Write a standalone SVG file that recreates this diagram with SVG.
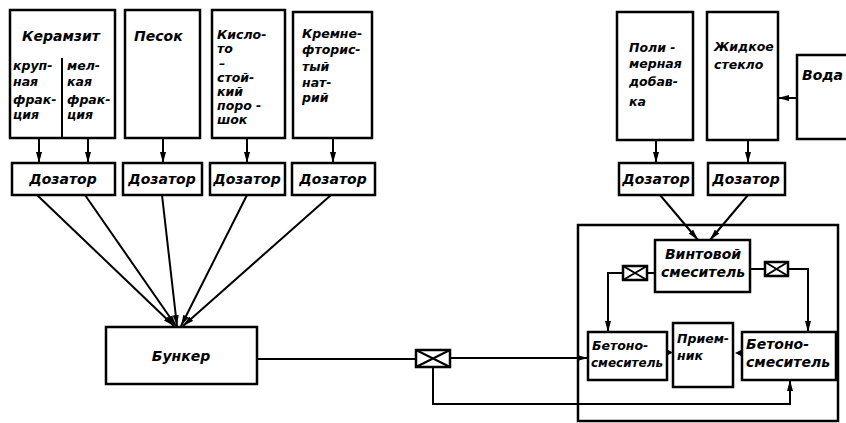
<svg xmlns="http://www.w3.org/2000/svg" width="846" height="423" viewBox="0 0 846 423">
<style>
.b{fill:#fff;stroke:#000;stroke-width:2.5}
.l{fill:none;stroke:#000;stroke-width:2}
.t{font-family:"DejaVu Sans","Liberation Sans",sans-serif;font-style:oblique;font-weight:bold;font-size:14px;fill:#000}
.s{font-size:12.5px}
.xs{font-size:12px}
.c{text-anchor:middle}
.v{fill:#fff;stroke:#000;stroke-width:2.5}
.vx{stroke:#000;stroke-width:2}
</style>
<defs>
<marker id="ah" markerUnits="userSpaceOnUse" markerWidth="12" markerHeight="7" refX="11" refY="3.5" orient="auto">
<path d="M0,0.5 L11,3.5 L0,6.5 z" fill="#000"/>
</marker>
</defs>
<rect width="846" height="423" fill="#fff"/>

<g id="connectors">
<path class="l" d="M39,138 L39,163" marker-end="url(#ah)"/>
<path class="l" d="M88,138 L88,163" marker-end="url(#ah)"/>
<path class="l" d="M163,138 L163,163" marker-end="url(#ah)"/>
<path class="l" d="M247,138 L247,163" marker-end="url(#ah)"/>
<path class="l" d="M333,138 L333,163" marker-end="url(#ah)"/>
<path class="l" d="M656,140 L656,163" marker-end="url(#ah)"/>
<path class="l" d="M748,140 L748,163" marker-end="url(#ah)"/>
<path class="l" d="M797,98 L778,98" marker-end="url(#ah)"/>
<path class="l" d="M37,195 L174,326" marker-end="url(#ah)"/>
<path class="l" d="M85,195 L176,326" marker-end="url(#ah)"/>
<path class="l" d="M162,195 L177,326" marker-end="url(#ah)"/>
<path class="l" d="M247,195 L181,326" marker-end="url(#ah)"/>
<path class="l" d="M331,195 L183,326" marker-end="url(#ah)"/>
<path class="l" d="M660,195 L698,240" marker-end="url(#ah)"/>
<path class="l" d="M748,195 L710,240" marker-end="url(#ah)"/>
<path class="l" d="M257,359 L416,359"/>
<path class="l" d="M450,358 L588,358" marker-end="url(#ah)"/>
<path class="l" d="M433,367 L433,404 L790,404 L790,380" marker-end="url(#ah)"/>
<path class="l" d="M655,273 L647,273"/>
<path class="l" d="M623,273 L608,273 L608,332" marker-end="url(#ah)"/>
<path class="l" d="M750,269 L765,269"/>
<path class="l" d="M788,269 L808,269 L808,332" marker-end="url(#ah)"/>
<path d="M666,349 L673,352.5 L666,356 z" fill="#000"/>
<path d="M742,349.5 L735,353 L742,356.5 z" fill="#000"/>
</g>

<g id="valve-main">
<rect class="v" x="416" y="350" width="34" height="17"/>
<path class="vx" d="M416,350 L450,367 M416,367 L450,350"/>
</g>
<g id="valve-left">
<rect class="v" x="623" y="266" width="24" height="14"/>
<path class="vx" d="M623,266 L647,280 M623,280 L647,266"/>
</g>
<g id="valve-right">
<rect class="v" x="765" y="262" width="23" height="14"/>
<path class="vx" d="M765,262 L788,276 M765,276 L788,262"/>
</g>

<g id="keramzit">
<rect class="b" x="10" y="10" width="105" height="128"/>
<path class="l" d="M62,58 L62,138"/>
<text class="t" x="22" y="41">Керамзит</text>
<text class="t s" x="13" y="70">круп-</text>
<text class="t s" x="13" y="86">ная</text>
<text class="t s" x="13" y="104">фрак-</text>
<text class="t s" x="13" y="119">ция</text>
<text class="t s" x="67" y="70">мел-</text>
<text class="t s" x="67" y="86">кая</text>
<text class="t s" x="67" y="104">фрак-</text>
<text class="t s" x="67" y="119">ция</text>
</g>
<g id="pesok">
<rect class="b" x="125" y="10" width="75" height="128"/>
<text class="t" x="134" y="41">Песок</text>
</g>
<g id="kislotostoyky">
<rect class="b" x="212" y="10" width="73" height="128"/>
<text class="t s" x="217" y="39">Кисло-</text>
<text class="t s" x="217" y="53">то</text>
<text class="t s" x="219" y="68">–</text>
<text class="t s" x="217" y="82">стой-</text>
<text class="t s" x="217" y="96">кий</text>
<text class="t s" x="217" y="110">поро -</text>
<text class="t s" x="217" y="124">шок</text>
</g>
<g id="kremneftoristy">
<rect class="b" x="293" y="12" width="79" height="126"/>
<text class="t s" x="302" y="38">Кремне-</text>
<text class="t s" x="302" y="54">фторис-</text>
<text class="t s" x="302" y="71">тый</text>
<text class="t s" x="302" y="87">нат-</text>
<text class="t s" x="302" y="102">рий</text>
</g>
<g id="polimer">
<rect class="b" x="617" y="12" width="76" height="128"/>
<text class="t s" x="629" y="52">Поли -</text>
<text class="t s" x="629" y="68">мерная</text>
<text class="t s" x="629" y="86">добав-</text>
<text class="t s" x="629" y="106">ка</text>
</g>
<g id="steklo">
<rect class="b" x="707" y="12" width="71" height="128"/>
<text class="t s" x="714" y="51">Жидкое</text>
<text class="t s" x="714" y="69">стекло</text>
</g>
<g id="voda">
<rect class="b" x="797" y="55" width="60" height="84"/>
<text class="t" x="802" y="80">Вода</text>
</g>

<g id="dozator1"><rect class="b" x="12" y="163" width="103" height="32"/><text class="t c" x="63" y="184">Дозатор</text></g>
<g id="dozator2"><rect class="b" x="123" y="163" width="79" height="32"/><text class="t c" x="162" y="184">Дозатор</text></g>
<g id="dozator3"><rect class="b" x="210" y="163" width="75" height="32"/><text class="t c" x="247" y="184">Дозатор</text></g>
<g id="dozator4"><rect class="b" x="292" y="163" width="83" height="32"/><text class="t c" x="333" y="184">Дозатор</text></g>
<g id="dozator5"><rect class="b" x="619" y="163" width="74" height="32"/><text class="t c" x="656" y="184">Дозатор</text></g>
<g id="dozator6"><rect class="b" x="708" y="163" width="77" height="32"/><text class="t c" x="746" y="184">Дозатор</text></g>

<g id="bunker">
<rect class="b" x="106" y="327" width="151" height="57"/>
<text class="t c" x="181" y="361">Бункер</text>
</g>

<g id="mixing-unit">
<rect fill="none" stroke="#000" stroke-width="2.5" x="578" y="225" width="260" height="196"/>
</g>
<g id="vintovoy">
<rect class="b" x="655" y="240" width="95" height="52"/>
<text class="t c" x="703" y="259">Винтовой</text>
<text class="t c" x="703" y="277">смеситель</text>
</g>
<g id="betonosmesitel-left">
<rect class="b" x="588" y="332" width="79" height="48"/>
<text class="t s" x="592" y="350">Бетоно-</text>
<text class="t xs" x="591" y="367">смеситель</text>
</g>
<g id="priemnik">
<rect class="b" x="673" y="323" width="60" height="64"/>
<text class="t s" x="677" y="343">Прием-</text>
<text class="t s" x="677" y="360">ник</text>
</g>
<g id="betonosmesitel-right">
<rect class="b" x="742" y="332" width="94" height="48"/>
<text class="t" x="746" y="349">Бетоно-</text>
<text class="t" x="746" y="367">смеситель</text>
</g>
</svg>
